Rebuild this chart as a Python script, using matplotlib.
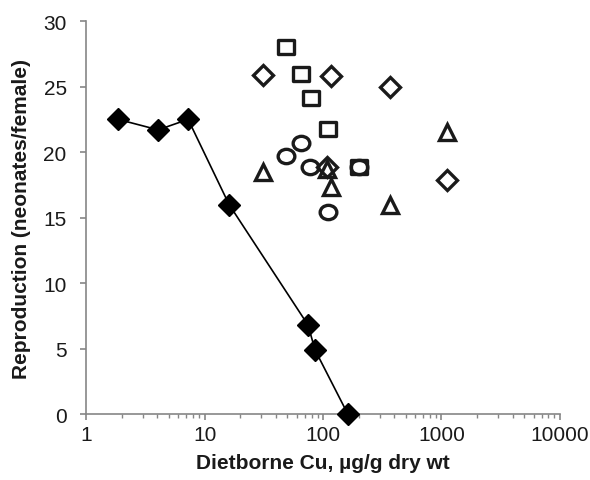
import matplotlib
matplotlib.use("Agg")
import numpy as np
import matplotlib.pyplot as plt
from matplotlib.path import Path
from matplotlib.ticker import LogLocator, FixedLocator, NullFormatter

plt.rcParams['font.family'] = ['Liberation Sans', 'DejaVu Sans']

# Filled diamonds (connected)
cu_line = [1.86, 4.05, 7.26, 16.1, 74.7, 85.6, 162]
rep_line = [22.5, 21.7, 22.5, 16.0, 6.8, 4.9, 0.0]

# Open squares
cu_sq = [48.7, 65.2, 79.2, 110, 201]
rep_sq = [28.0, 26.0, 24.1, 21.8, 18.9]

# Open diamonds
cu_di = [31.2, 117, 367, 1112, 108]
rep_di = [25.9, 25.8, 25.0, 17.9, 18.9]

# Open circles
cu_ci = [65.2, 48.7, 77.9, 110, 201]
rep_ci = [20.7, 19.7, 18.9, 15.4, 18.9]

# Open triangles
cu_tr = [31.2, 108, 117, 367, 1112]
rep_tr = [18.5, 18.7, 17.3, 16.0, 21.5]

# slightly wide markers, as in the reference
uc = Path.unit_circle()
ellipse = Path(uc.vertices * np.array([1.0, 0.86]), uc.codes)
rect = Path(np.array([[-1, -0.86], [1, -0.86], [1, 0.86], [-1, 0.86], [-1, -0.86]]),
            [Path.MOVETO, Path.LINETO, Path.LINETO, Path.LINETO, Path.CLOSEPOLY])

fig = plt.figure(figsize=(5.9, 4.81), dpi=100)
ax = fig.add_axes([0.146, 0.137, 0.803, 0.817])

ax.plot(cu_line, rep_line, color='black', lw=1.2, marker='D', ms=11,
        mfc='black', mec='black', zorder=3, clip_on=False)
kw = dict(ls='none', mfc='none', mec='#1a1a1a', mew=2.4, clip_on=False, zorder=4)
ax.plot(cu_sq, rep_sq, marker=rect, ms=12, **kw)
ax.plot(cu_di, rep_di, marker='D', ms=10, **kw)
ax.plot(cu_ci, rep_ci, marker=ellipse, ms=12, **kw)
ax.plot(cu_tr, rep_tr, marker='^', ms=12, **kw)

ax.set_xscale('log')
ax.set_xlim(1, 10000)
ax.set_ylim(0, 30)
ax.set_yticks([0, 5, 10, 15, 20, 25, 30])
ax.xaxis.set_major_locator(FixedLocator([1, 10, 100, 1000, 10000]))
ax.set_xticklabels(['1', '10', '100', '1000', '10000'])
ax.xaxis.set_minor_locator(LogLocator(base=10, subs=range(2, 10)))
ax.xaxis.set_minor_formatter(NullFormatter())

gray = '#868686'
for s in ['top', 'right']:
    ax.spines[s].set_visible(False)
for s in ['left', 'bottom']:
    ax.spines[s].set_color(gray)
    ax.spines[s].set_linewidth(1.2)
ax.tick_params(axis='both', which='major', color=gray, length=4, width=1.2,
               labelsize=15, labelcolor='#1a1a1a')
ax.tick_params(axis='y', which='major', pad=10)
ax.tick_params(axis='x', which='major', pad=4)
ax.tick_params(axis='x', which='minor', color=gray, length=3, width=1)

ax.set_xlabel('Dietborne Cu, µg/g dry wt', fontsize=15, fontweight='bold',
              color='#1a1a1a', labelpad=6)
ax.set_ylabel('Reproduction (neonates/female)', fontsize=15, fontweight='bold',
              color='#1a1a1a', labelpad=9)

fig.savefig('out.png', dpi=100)
